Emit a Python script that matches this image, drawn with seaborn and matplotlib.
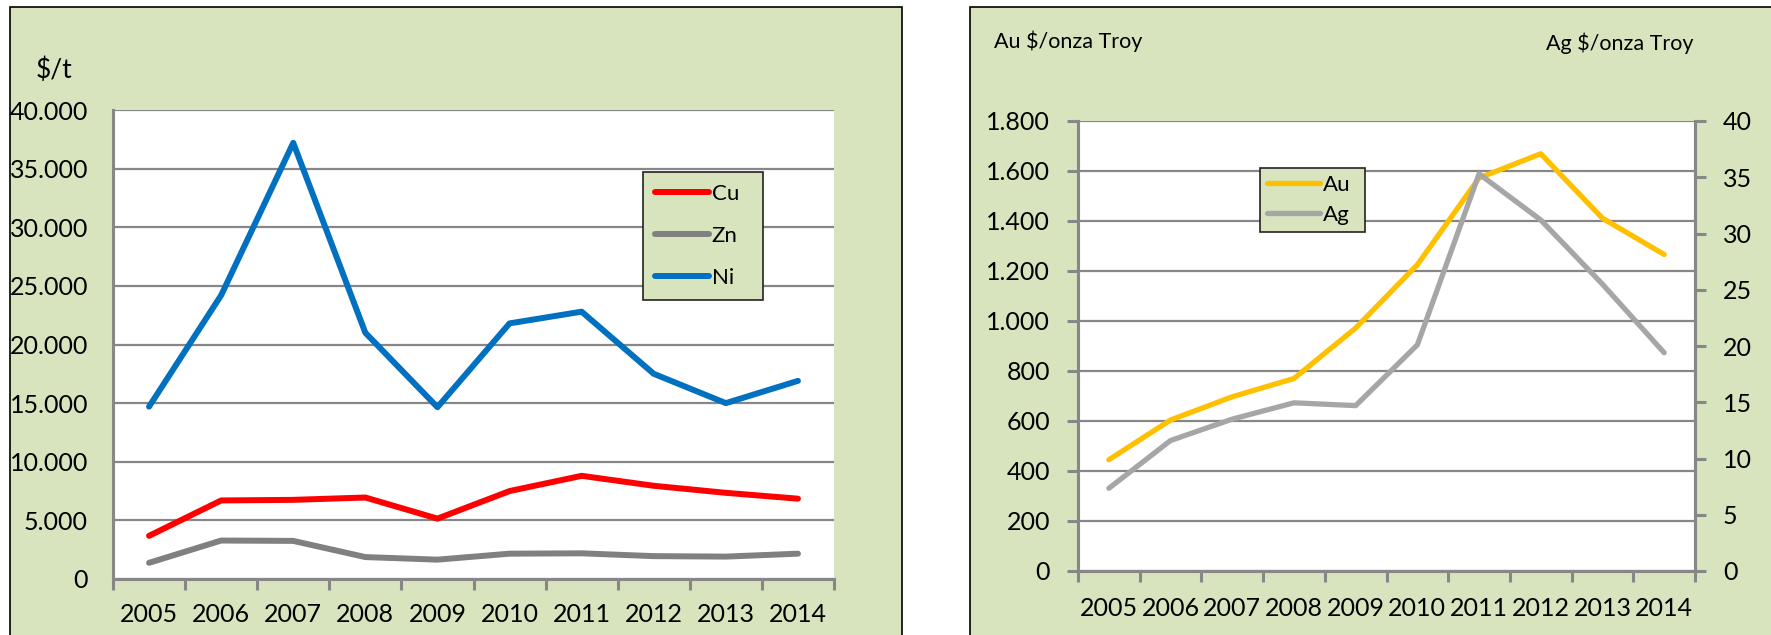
import matplotlib
matplotlib.use("Agg")
import matplotlib.pyplot as plt
import seaborn as sns
import pandas as pd
from matplotlib.patches import Rectangle
from matplotlib.lines import Line2D
from matplotlib.ticker import FuncFormatter, FixedLocator

years = [2005, 2006, 2007, 2008, 2009, 2010, 2011, 2012, 2013, 2014]
cu = [3680, 6700, 6750, 6950, 5150, 7500, 8800, 7950, 7350, 6850]
zn = [1380, 3280, 3250, 1870, 1650, 2160, 2190, 1950, 1910, 2160]
ni = [14700, 24200, 37200, 21000, 14650, 21800, 22800, 17500, 15000, 16900]
au = [445, 604, 697, 770, 972, 1225, 1572, 1669, 1411, 1266]
ag = [7.35, 11.6, 13.5, 14.95, 14.7, 20.1, 35.3, 31.2, 25.5, 19.4]

left_unit = "$/t"
au_label = "Au $/onza Troy"
ag_label = "Ag $/onza Troy"

sns.set_style("white")
plt.rcParams['font.family'] = ['Lato', 'DejaVu Sans']
plt.rcParams['text.color'] = 'black'
plt.rcParams['xtick.color'] = 'black'
plt.rcParams['ytick.color'] = 'black'

BG = "#D7E4BD"
GRID = "#878787"
TICK_FS = 18
colors = {"Cu": "#FF0000", "Zn": "#808080", "Ni": "#0070C0", "Au": "#FFC000", "Ag": "#A6A6A6"}

W, H = 1771, 635
fig = plt.figure(figsize=(W / 100, H / 100), dpi=100)
fig.patch.set_facecolor("white")

# panel backgrounds
fig.patches.append(Rectangle((10 / W, -0.1), (902 - 10) / W, 1.1 - 7 / H, transform=fig.transFigure,
                             facecolor=BG, edgecolor="black", linewidth=1.2, zorder=-10))
fig.patches.append(Rectangle((970 / W, -0.1), 1.0, 1.1 - 7 / H, transform=fig.transFigure,
                             facecolor=BG, edgecolor="black", linewidth=1.2, zorder=-10))


def thousands(v, pos):
    return f"{int(round(v)):,}".replace(",", ".")


def style_xaxis(ax, pad):
    ax.set_xlim(years[0] - 0.5, years[-1] + 0.5)
    ax.xaxis.set_major_locator(FixedLocator([y - 0.5 for y in years] + [years[-1] + 0.5]))
    ax.xaxis.set_minor_locator(FixedLocator(years))
    ax.tick_params(axis="x", which="major", length=8, width=2.2, color=GRID, labelbottom=False, bottom=True)
    ax.tick_params(axis="x", which="minor", length=0, labelsize=TICK_FS, pad=pad, bottom=True)
    ax.xaxis.set_minor_formatter(FuncFormatter(lambda v, p: str(int(round(v)))))
    ax.set_xlabel("")


# ---------- left panel ----------
ax1 = fig.add_axes([113 / W, 1 - 579 / H, (834 - 113) / W, (579 - 110) / H])
ax1.set_facecolor("white")
df1 = pd.DataFrame({"Year": years * 3, "Value": cu + zn + ni,
                    "Metal": ["Cu"] * 10 + ["Zn"] * 10 + ["Ni"] * 10})
sns.lineplot(data=df1, x="Year", y="Value", hue="Metal", palette=colors, linewidth=4.3,
             ax=ax1, legend=False, solid_capstyle="round", solid_joinstyle="round")
ax1.set_ylim(0, 40000)
ax1.set_yticks(range(0, 40001, 5000))
ax1.yaxis.set_major_formatter(FuncFormatter(thousands))
ax1.tick_params(axis="y", length=0, labelsize=TICK_FS, pad=18)
ax1.yaxis.grid(True, color=GRID, linewidth=1.6)
ax1.set_axisbelow(True)
ax1.set_ylabel("")
style_xaxis(ax1, 17)
for s in ["top", "right"]:
    ax1.spines[s].set_visible(False)
for s in ["left", "bottom"]:
    ax1.spines[s].set_color(GRID)
    ax1.spines[s].set_linewidth(2.2)
fig.text(54 / W, 1 - 70 / H, left_unit, fontsize=19, ha="center", va="center")

h1 = [Line2D([], [], color=colors[m], linewidth=4.3, solid_capstyle="round") for m in ["Cu", "Zn", "Ni"]]
leg1 = ax1.legend(h1, ["Cu", "Zn", "Ni"], loc="center",
                  bbox_to_anchor=(643 / W, 1 - 306 / H, (763 - 643) / W, (306 - 166) / H),
                  bbox_transform=fig.transFigure, mode="expand", fontsize=16, frameon=True,
                  fancybox=False, handlelength=2.4, handletextpad=0.15, labelspacing=1.0,
                  borderpad=0.55, borderaxespad=0)
leg1.get_frame().set_facecolor(BG)
leg1.get_frame().set_edgecolor("#222222")
leg1.get_frame().set_linewidth(1.2)
leg1.get_frame().set_alpha(1)

# ---------- right panel ----------
ax2 = fig.add_axes([1078 / W, 1 - 571 / H, (1695 - 1078) / W, (571 - 121) / H])
ax2.set_facecolor("white")
df_au = pd.DataFrame({"Year": years, "Value": au})
df_ag = pd.DataFrame({"Year": years, "Value": ag})
sns.lineplot(data=df_au, x="Year", y="Value", color=colors["Au"], linewidth=3.8, ax=ax2,
             solid_capstyle="round", solid_joinstyle="round", zorder=3)
ax2.set_ylim(0, 1800)
ax2.set_yticks(range(0, 1801, 200))
ax2.yaxis.set_major_formatter(FuncFormatter(thousands))
ax2.tick_params(axis="y", length=8, width=2.2, color=GRID, labelsize=TICK_FS, pad=12, left=True)
ax2.yaxis.grid(True, color=GRID, linewidth=1.6)
ax2.set_axisbelow(True)
ax2.set_ylabel("")
style_xaxis(ax2, 18.5)
ax2.spines["top"].set_visible(False)
for s in ["left", "bottom", "right"]:
    ax2.spines[s].set_color(GRID)
    ax2.spines[s].set_linewidth(2.2)

ax3 = ax2.twinx()
sns.lineplot(data=df_ag, x="Year", y="Value", color=colors["Ag"], linewidth=3.8, ax=ax3,
             solid_capstyle="round", solid_joinstyle="round")
ax3.set_ylim(0, 40)
ax3.set_yticks(range(0, 41, 5))
ax3.tick_params(axis="y", length=8, width=2.2, color=GRID, labelsize=TICK_FS, pad=12, right=True)
ax3.set_ylabel("")
ax3.spines["top"].set_visible(False)
for s in ["left", "bottom", "right"]:
    ax3.spines[s].set_color(GRID)
    ax3.spines[s].set_linewidth(2.2)

fig.text(994 / W, 1 - 41 / H, au_label, fontsize=15.5, ha="left", va="center")
fig.text(1694 / W, 1 - 43 / H, ag_label, fontsize=15.5, ha="right", va="center")

h2 = [Line2D([], [], color=colors[m], linewidth=3.8, solid_capstyle="round") for m in ["Au", "Ag"]]
leg2 = ax3.legend(h2, ["Au", "Ag"], loc="center",
                  bbox_to_anchor=(1260 / W, 1 - 239 / H, (1365 - 1260) / W, (239 - 161) / H),
                  bbox_transform=fig.transFigure, mode="expand", fontsize=16, frameon=True,
                  fancybox=False, handlelength=2.4, handletextpad=0.15, labelspacing=0.45,
                  borderpad=0.3, borderaxespad=0)
leg2.get_frame().set_facecolor(BG)
leg2.get_frame().set_edgecolor("#222222")
leg2.get_frame().set_linewidth(1.2)
leg2.get_frame().set_alpha(1)

fig.savefig("out.png", dpi=100, facecolor=fig.get_facecolor())
